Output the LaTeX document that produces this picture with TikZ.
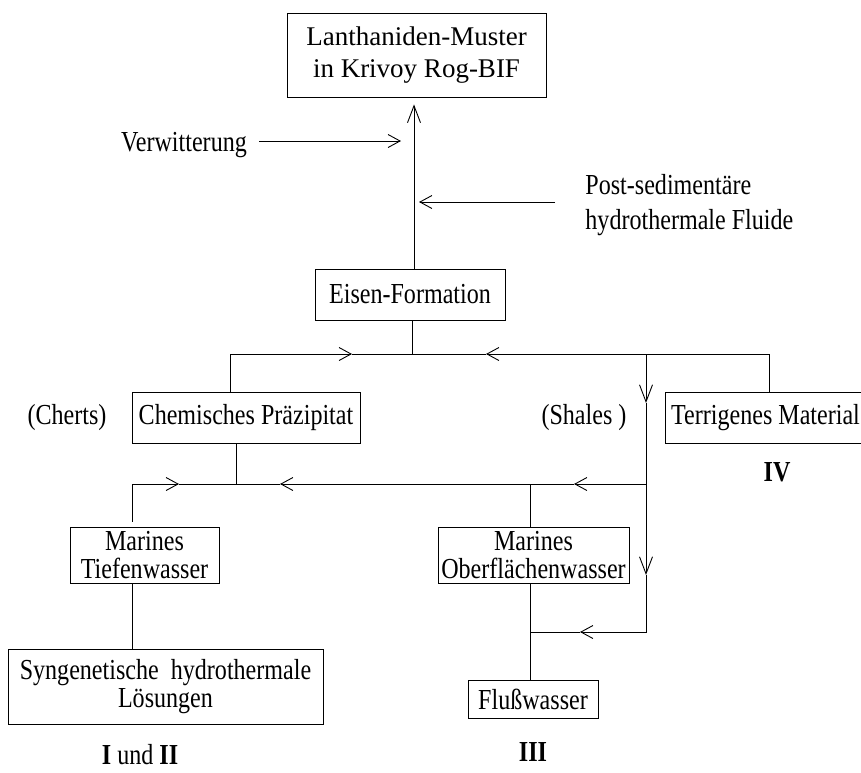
\documentclass[tikz,border=0pt]{standalone}
\usepackage{fontspec}
\setmainfont{Liberation Serif}[FakeStretch=0.83]
\newfontfamily\widefont{Liberation Serif}
\usetikzlibrary{arrows.meta}
\begin{document}
\begin{tikzpicture}[x=1pt,y=-1pt,line width=0.9pt,
  txt/.style={font=\fontsize{29}{28}\selectfont},
  box/.style={draw,inner sep=0pt,align=center,txt},
  lbl/.style={inner sep=0pt,align=center,txt},
  bb/.tip={Straight Barb[length=12pt,width=13pt]},
  bbv/.tip={Straight Barb[length=17pt,width=13pt]}]
\useasboundingbox (0,0) rectangle (861,772);
% boxes
\node[box,minimum width=259pt,minimum height=84pt,font=\widefont\fontsize{27}{32}\selectfont] (T) at (416.5,55) {Lanthaniden-Muster\\in Krivoy Rog-BIF};
\node[box,minimum width=190pt,minimum height=51pt] (E) at (410,294.5) {Eisen-Formation};
\node[box,minimum width=228pt,minimum height=51pt] (C) at (246,417.5) {Chemisches Präzipitat};
\node[box,minimum width=201pt,minimum height=51pt] (TM) at (765.5,417.5) {Terrigenes Material};
\node[box,minimum width=149pt,minimum height=56pt] (MT) at (144.5,555) {Marines\\Tiefenwasser};
\node[box,minimum width=191pt,minimum height=56pt] (MO) at (533.5,555) {Marines\\Oberflächenwasser};
\node[box,minimum width=315pt,minimum height=75pt] (S) at (165.5,686.5) {Syngenetische\ \ hydrothermale\\Lösungen};
\node[box,minimum width=130pt,minimum height=38pt] (F) at (533,699) {Flußwasser};
% labels
\node[lbl] (verw) at (184,145) {Verwitterung};
\node[lbl,align=left,anchor=west,font=\fontsize{29}{35}\selectfont] (post) at (585,205) {Post-sedimentäre\\hydrothermale Fluide};
\node[lbl] (cherts) at (67,418) {(Cherts)};
\node[lbl] (shales) at (584,418) {(Shales )};
\node[lbl] (iv) at (777,472) {\textbf{IV}};
\node[lbl] (i2) at (140,755) {\textbf{I} und \textbf{II}};
\node[lbl] (iii) at (533,752) {\textbf{III}};
% coordinates
\coordinate (m) at (414,0);
\coordinate (va) at (401,141);
\coordinate (pa) at (419,202);
\coordinate (j1) at (412,354);
\coordinate (l1) at (230,354);
\coordinate (a1) at (352,354);
\coordinate (r1) at (769,354);
\coordinate (a2) at (486,354);
\coordinate (s1) at (646,354);
\coordinate (a3) at (646,403);
\coordinate (s2) at (646,484);
\coordinate (a5) at (646,575);
\coordinate (s3) at (646,632);
\coordinate (a6) at (580,632);
\coordinate (j3) at (530,632);
\coordinate (j2) at (236,484);
\coordinate (a7) at (574,484);
\coordinate (j4) at (530,484);
\coordinate (a8) at (280,484);
\coordinate (l2) at (132,484);
\coordinate (a9) at (179,484);
% connectors
\draw[-bbv,shorten >=7pt] (E.north -| m) -- (T.south -| m);
\draw[-bb,shorten <=12pt] (verw.east |- va) -- (va);
\draw[-bb,shorten <=30pt] (post.west |- pa) -- (pa);
\draw (E.south -| j1) -- (j1);
\draw[-bb] (C.north -| l1) -- (l1) -- (a1);
\draw (a1) -- (j1);
\draw[-bb] (TM.north -| r1) -- (r1) -- (a2);
\draw (a2) -- (j1);
\draw[-bbv] (s1) -- (a3);
\draw[-bbv] (a3) -- (a5);
\draw[-bb] (a5) -- (s3) -- (a6);
\draw (a6) -- (j3);
\draw (C.south -| j2) -- (j2);
\draw[-bb] (s2) -- (a7);
\draw (a7) -- (j4);
\draw[-bb] (j4) -- (a8);
\draw (a8) -- (j2);
\draw[-bb,shorten <=5pt] (MT.north -| l2) -- (l2) -- (a9);
\draw (a9) -- (j2);
\draw (MO.north -| j4) -- (j4);
\draw (S.north -| l2) -- (MT.south -| l2);
\draw (F.north -| j3) -- (MO.south -| j3);
\end{tikzpicture}
\end{document}
